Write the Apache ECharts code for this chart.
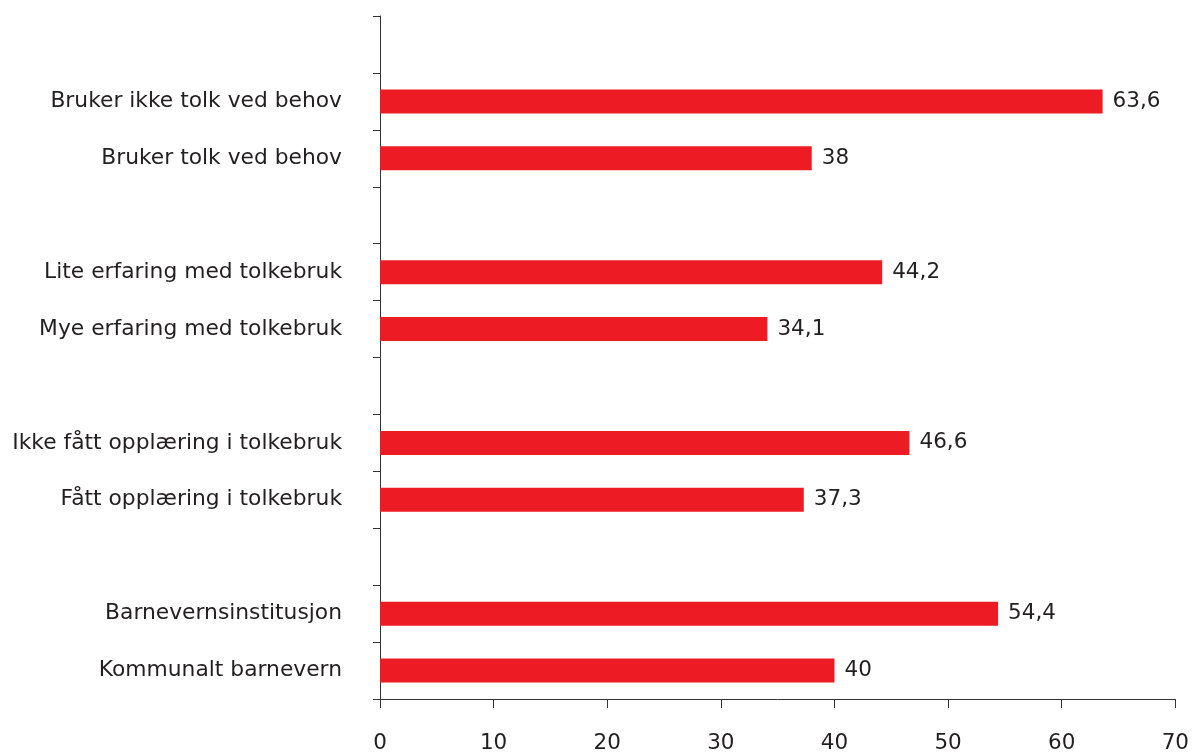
<!DOCTYPE html>
<html>
<head>
<meta charset="utf-8">
<script src="https://cdn.jsdelivr.net/npm/echarts@6/dist/echarts.min.js"></script>
<style>
html,body{margin:0;padding:0;background:#fff;}
#c{width:1192px;height:754px;}
</style>
</head>
<body>
<div id="c"></div>
<script>
// bottom to top order (category axis starts at the bottom)
const categories = [
  'Kommunalt barnevern',
  'Barnevernsinstitusjon',
  ' ',
  'Fått opplæring i tolkebruk',
  'Ikke fått opplæring i tolkebruk',
  '  ',
  'Mye erfaring med tolkebruk',
  'Lite erfaring med tolkebruk',
  '   ',
  'Bruker tolk ved behov',
  'Bruker ikke tolk ved behov',
  '    '
];
const values = [40, 54.4, null, 37.3, 46.6, null, 34.1, 44.2, null, 38, 63.6, null];
const xTicks = { min: 0, max: 70, interval: 10 };

const chart = echarts.init(document.getElementById('c'));
const font = 'DejaVu Sans, Verdana, sans-serif';
const txt = '#231F20';
chart.setOption({
  animation: false,
  grid: { left: 380, right: 12, top: 16, bottom: 55, containLabel: false },
  xAxis: {
    type: 'value',
    min: xTicks.min, max: xTicks.max, interval: xTicks.interval,
    splitLine: { show: false },
    axisLine: { show: true, lineStyle: { color: '#333', width: 1 } },
    axisTick: { show: true, length: 9, lineStyle: { color: '#333' } },
    axisLabel: { margin: 33, fontSize: 21.5, color: txt, fontFamily: font }
  },
  yAxis: {
    type: 'category',
    data: categories,
    axisLine: { show: true, lineStyle: { color: '#333', width: 1 } },
    axisTick: { show: true, length: 7, interval: 0, lineStyle: { color: '#333' } },
    axisLabel: { margin: 38, fontSize: 21.8, color: txt, fontFamily: font, interval: 0 }
  },
  series: [{
    type: 'bar',
    data: values,
    barWidth: 24,
    itemStyle: { color: '#ED1C24' },
    label: {
      show: true,
      position: 'right',
      distance: 10,
      fontSize: 21.5,
      color: txt,
      fontFamily: font,
      formatter: p => p.value == null ? '' : String(p.value).replace('.', ',')
    }
  }]
});
</script>
</body>
</html>
